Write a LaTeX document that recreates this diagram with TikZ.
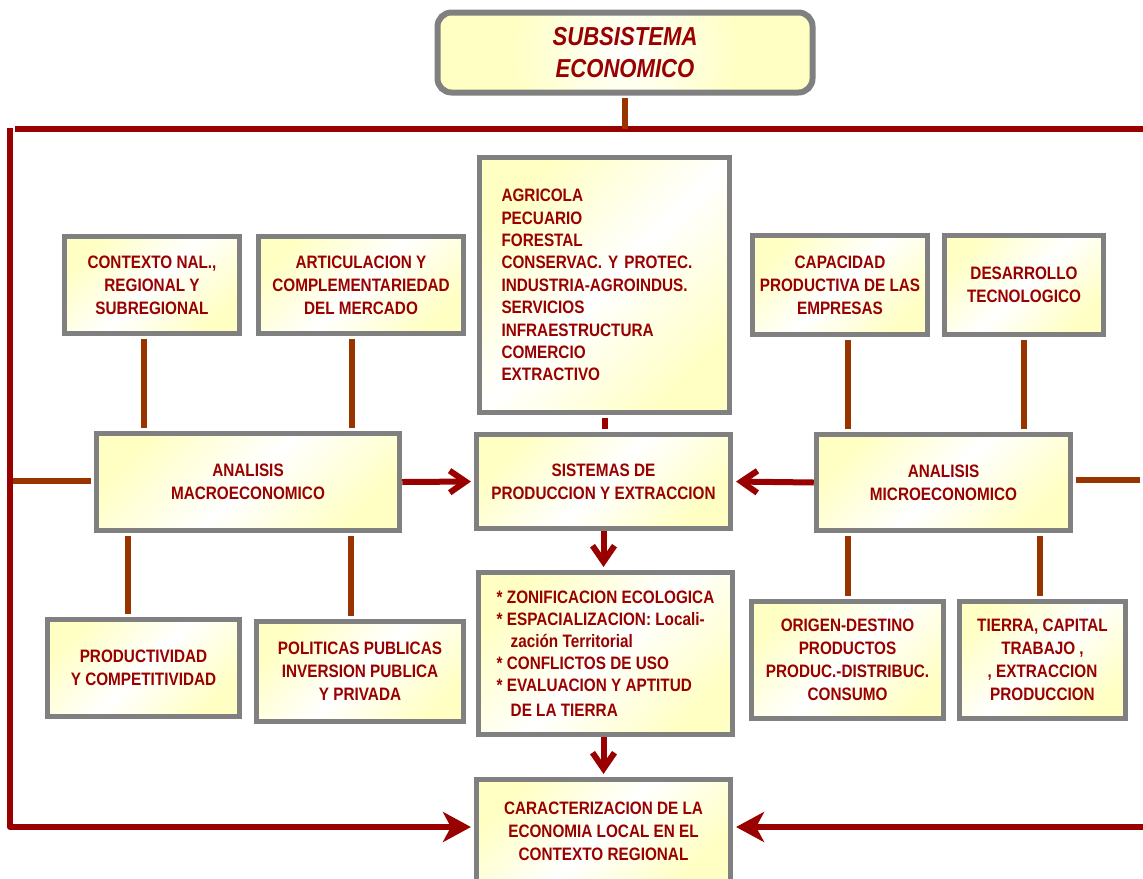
\documentclass[tikz,border=0pt]{standalone}
\usepackage{fontspec}
\setmainfont{Liberation Sans}[FakeStretch=0.85]
\usetikzlibrary{arrows.meta}

\definecolor{rojoTexto}{HTML}{990000}
\definecolor{rojoLinea}{HTML}{990000}
\definecolor{cafe}{HTML}{993300}
\definecolor{gris}{HTML}{808080}
\definecolor{crema}{HTML}{FFFFC4}

\begin{document}
\frenchspacing
\begin{tikzpicture}[x=0.5pt,y=-0.5pt,
  caja/.style={draw=gris,line width=2.75pt,top color=crema,bottom color=crema,
    middle color=white,shading angle=45,text=rojoTexto,align=center,inner sep=2pt,
    font=\fontsize{9}{11.5}\selectfont\bfseries},
  titulo/.style={caja,rounded corners=7pt,line width=3pt,inner color=white,outer color=crema,
    font=\fontsize{13}{16}\selectfont\bfseries\itshape},
  enlace/.style={draw=cafe,line width=3pt,shorten <=1.4pt,shorten >=1.4pt},
  union/.style={enlace,draw=rojoLinea},
  flecha/.style={draw=rojoLinea,line width=3pt,shorten >=1.4pt,
    -{Straight Barb[length=8pt,width=11pt]}},
  marco/.style={draw=rojoLinea,line width=3pt,line join=round},
  flechaMarco/.style={marco,shorten >=1.4pt,-{Stealth[length=14pt,width=15pt,inset=4pt]}}]

\clip (0,0) rectangle (1143,878);

% cabecera
\node[titulo,minimum width=187.5pt,minimum height=40pt] (subsistema) at (625,52.5)
  {SUBSISTEMA\\ECONOMICO};

% bloque macro
\node[caja,minimum width=87.5pt,minimum height=48.5pt] (contexto) at (152,285)
  {CONTEXTO NAL.,\\REGIONAL Y\\SUBREGIONAL};
\node[caja,minimum width=102.5pt,minimum height=48.5pt] (articulacion) at (361,285)
  {ARTICULACION Y\\COMPLEMENTARIEDAD\\DEL MERCADO};
\node[caja,minimum width=151.5pt,minimum height=48.5pt] (macro) at (248,482)
  {ANALISIS\\MACROECONOMICO};
\node[caja,minimum width=96pt,minimum height=48.5pt] (productividad) at (143.5,668)
  {PRODUCTIVIDAD\\Y COMPETITIVIDAD};
\node[caja,minimum width=103.5pt,minimum height=50pt] (politicas) at (360,671.5)
  {POLITICAS PUBLICAS\\INVERSION PUBLICA\\Y PRIVADA};

% columna central
\node[caja,align=left,text width=103pt,inner xsep=11pt,minimum height=127.5pt,
  font=\fontsize{9}{11.2}\selectfont\bfseries] (sectores) at (604.5,285)
  {AGRICOLA\\PECUARIO\\FORESTAL\\CONSERVAC. Y PROTEC.\\INDUSTRIA-AGROINDUS.\\
   SERVICIOS\\INFRAESTRUCTURA\\COMERCIO\\EXTRACTIVO};
\node[caja,minimum width=127pt,minimum height=47pt] (sistemas) at (603.5,481.5)
  {SISTEMAS DE\\PRODUCCION Y EXTRACCION};
\node[caja,align=left,minimum width=127pt,minimum height=81pt,
  font=\fontsize{9}{11}\selectfont\bfseries] (zonificacion) at (605.5,653.5)
  {* ZONIFICACION ECOLOGICA\\* ESPACIALIZACION: Locali-\\\hspace*{7pt}zación Territorial\\
   * CONFLICTOS DE USO\\* EVALUACION Y APTITUD\\[1.5pt]\hspace*{7pt}DE LA TIERRA};
\node[caja,minimum width=127pt,minimum height=51.5pt] (caracterizacion) at (603.5,831)
  {CARACTERIZACION DE LA\\ECONOMIA LOCAL EN EL\\CONTEXTO REGIONAL};

% bloque micro
\node[caja,minimum width=87.5pt,minimum height=49.5pt] (capacidad) at (840,285)
  {CAPACIDAD\\PRODUCTIVA DE LAS\\EMPRESAS};
\node[caja,minimum width=79.5pt,minimum height=49.5pt] (desarrollo) at (1024,285)
  {DESARROLLO\\TECNOLOGICO};
\node[caja,minimum width=127pt,minimum height=48pt] (micro) at (943.5,482.5)
  {ANALISIS\\MICROECONOMICO};
\node[caja,minimum width=96pt,minimum height=58.5pt] (origen) at (847.5,660)
  {ORIGEN-DESTINO\\PRODUCTOS\\PRODUC.-DISTRIBUC.\\CONSUMO};
\node[caja,minimum width=83pt,minimum height=58.5pt] (tierra) at (1042.5,660)
  {TIERRA, CAPITAL\\TRABAJO ,\\, EXTRACCION\\PRODUCCION};

% marco exterior
\coordinate (esqSup) at (15,129);
\coordinate (bordeSup) at (1143,129);
\coordinate (esqIzq) at (10,128);
\coordinate (esqInf) at (10,827);
\coordinate (bordeInf) at (1143,827);
\coordinate (ramalIzq) at (10,481);
\coordinate (ramalDer) at (1143,480);

\draw[marco] (esqSup) -- (bordeSup);
\draw[enlace,shorten >=0pt] (subsistema.south) -- (subsistema.south |- esqSup);
\draw[flechaMarco] (esqIzq) -- (esqInf) -- (caracterizacion.west |- esqInf);
\draw[flechaMarco] (bordeInf) -- (caracterizacion.east |- bordeInf);
\draw[enlace] (ramalIzq) -- (ramalIzq -| macro.west);
\draw[enlace] (ramalDer -| micro.east) -- (ramalDer);

% enlaces macro
\coordinate (contextoPie) at ([xshift=-4pt]contexto.south);
\coordinate (articulacionPie) at ([xshift=-4.5pt]articulacion.south);
\coordinate (productividadTope) at ([xshift=-7.75pt]productividad.north);
\coordinate (politicasTope) at ([xshift=-4.5pt]politicas.north);
\draw[enlace] (contextoPie) -- (contextoPie |- macro.north);
\draw[enlace] (articulacionPie) -- (articulacionPie |- macro.north);
\draw[enlace] (productividadTope |- macro.south) -- (productividadTope);
\draw[enlace] (politicasTope |- macro.south) -- (politicasTope);

% enlaces micro
\coordinate (capacidadPie) at ([xshift=4pt]capacidad.south);
\coordinate (tierraTope) at ([xshift=-1.25pt]tierra.north);
\draw[enlace] (capacidadPie) -- (capacidadPie |- micro.north);
\draw[enlace] (desarrollo.south) -- (desarrollo.south |- micro.north);
\draw[enlace] (origen.north |- micro.south) -- (origen.north);
\draw[enlace] (tierraTope |- micro.south) -- (tierraTope);

% flujo central
\draw[union] (sectores.south) -- (sectores.south |- sistemas.north);
\draw[flecha] (macro.east) -- (sistemas.west);
\draw[flecha] (micro.west) -- (sistemas.east);
\draw[flecha] (sistemas.south) -- (sistemas.south |- zonificacion.north);
\draw[flecha] (sistemas.south |- zonificacion.south) -- (caracterizacion.north);

\end{tikzpicture}
\end{document}
